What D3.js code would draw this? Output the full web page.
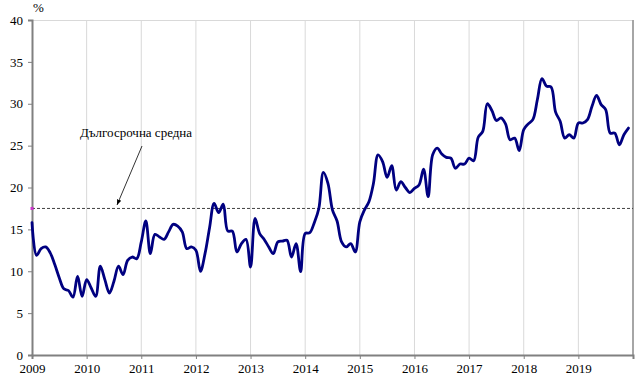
<!DOCTYPE html>
<html><head><meta charset="utf-8">
<script src="https://cdn.jsdelivr.net/npm/d3@7"></script>
<style>body{margin:0;background:#fff}svg{display:block}</style>
</head><body>
<svg id="c" width="643" height="391"></svg>
<script>
const startYear = 2009;
const yearLabels = ["2009","2010","2011","2012","2013","2014","2015","2016","2017","2018","2019"];
const yTicks = [0,5,10,15,20,25,30,35,40];
const longTermAverage = 17.5;
const annotationText = "Дългосрочна средна";
const unitLabel = "%";
// monthly values, Jan 2009 .. Dec 2019
const values = [
15.8,11.9,12.7,12.9,12.2,10.8,9.2,7.9,7.7,6.9,9.4,7.0,
9.0,8.0,7.0,10.6,9.0,7.4,8.8,10.6,9.6,11.3,11.7,11.5,
13.5,16.0,12.1,14.4,14.1,13.8,14.7,15.6,15.4,14.7,12.7,12.9,
12.5,10.0,12.1,15.2,18.1,17.0,18.0,14.8,14.8,12.3,13.3,13.8,
10.5,16.3,14.5,13.8,12.9,12.1,13.5,13.6,13.7,11.7,13.3,9.95,
14.5,14.6,15.8,17.5,21.8,20.5,17.3,16.0,13.5,12.9,13.3,12.3,
15.9,17.3,18.3,20.5,23.9,23.1,21.2,22.6,19.7,20.7,20.0,19.4,
19.9,20.3,22.2,18.9,23.9,24.7,24.0,23.6,23.5,22.3,22.8,22.8,
23.5,23.2,26.0,26.7,30.0,29.2,28.0,28.3,27.6,25.7,25.9,24.4,
26.9,27.6,28.1,30.5,33.0,32.1,32.0,29.0,27.9,25.9,26.3,25.9,
27.7,27.7,28.1,29.7,31.0,29.9,29.3,26.5,26.5,25.1,26.3,27.1
];

const svg = d3.select("#c");
const L = 32, R = 633, T = 20, B = 355;
const x = d3.scaleLinear().domain([startYear, startYear + 11]).range([L, R]);
const y = d3.scaleLinear().domain([0, 40]).range([B, T]);
const font = "'Liberation Serif','Times New Roman',serif";

// vertical gridlines
svg.append("g").selectAll("line").data(yearLabels.slice(1)).join("line")
  .attr("x1", d => x(+d)).attr("x2", d => x(+d))
  .attr("y1", T).attr("y2", B)
  .attr("stroke", "#d9d9d9").attr("stroke-width", 1);

// frame: top and right
svg.append("line").attr("x1", L).attr("x2", R).attr("y1", T + 0.5).attr("y2", T + 0.5)
  .attr("stroke", "#d9d9d9").attr("stroke-width", 1);
svg.append("line").attr("x1", R).attr("x2", R).attr("y1", T).attr("y2", B)
  .attr("stroke", "#a6a6a6").attr("stroke-width", 2);

// y axis
const yAxis = svg.append("g").attr("transform", `translate(${L},0)`)
  .call(d3.axisLeft(y).tickValues(yTicks).tickSize(4).tickFormat(d3.format("d")));
yAxis.select(".domain").attr("stroke", "#808080").attr("stroke-width", 2);
yAxis.selectAll(".tick line").attr("stroke", "#808080");
yAxis.selectAll("text").attr("font-family", font).attr("font-size", 13)
  .attr("fill", "#000").attr("x", -9);

// x axis
const xAxis = svg.append("g").attr("transform", `translate(0,${B})`)
  .call(d3.axisBottom(x).tickValues(yearLabels.map(Number)).tickSize(4).tickFormat((d, i) => yearLabels[i]));
xAxis.select(".domain").attr("stroke", "#808080").attr("stroke-width", 2);
xAxis.selectAll(".tick line").attr("stroke", "#808080");
xAxis.selectAll("text").attr("font-family", font).attr("font-size", 13)
  .attr("fill", "#000").attr("dy", "0.71em").attr("y", 9);

// unit label
svg.append("text").attr("x", L + 1).attr("y", 12).text(unitLabel)
  .attr("font-family", font).attr("font-size", 13);

// long-term average
svg.append("line").attr("x1", L).attr("x2", R)
  .attr("y1", y(longTermAverage)).attr("y2", y(longTermAverage))
  .attr("stroke", "#404040").attr("stroke-width", 1).attr("stroke-dasharray", "3,2");
svg.append("rect").attr("x", L - 1.5).attr("y", y(longTermAverage) - 1.5)
  .attr("width", 3).attr("height", 3).attr("fill", "#cc33cc");

// series line
const line = d3.line()
  .x((d, i) => x(startYear + i / 12))
  .y(d => y(d))
  .curve(d3.curveCatmullRom.alpha(0.5));
svg.append("path").datum(values).attr("d", line)
  .attr("fill", "none").attr("stroke", "#000080").attr("stroke-width", 2.8)
  .attr("stroke-linejoin", "round").attr("stroke-linecap", "round");

// annotation
svg.append("defs").append("marker").attr("id", "arr")
  .attr("viewBox", "0 0 10 10").attr("refX", 10).attr("refY", 5)
  .attr("markerWidth", 7).attr("markerHeight", 7).attr("orient", "auto")
  .append("path").attr("d", "M0,1 L10,5 L0,9 z").attr("fill", "#000");
svg.append("text").attr("x", 80).attr("y", 137).text(annotationText)
  .attr("font-family", font).attr("font-size", 13);
svg.append("line").attr("x1", 142).attr("y1", 146).attr("x2", 117).attr("y2", 205)
  .attr("stroke", "#000").attr("stroke-width", 0.8).attr("marker-end", "url(#arr)");
</script>
</body></html>
